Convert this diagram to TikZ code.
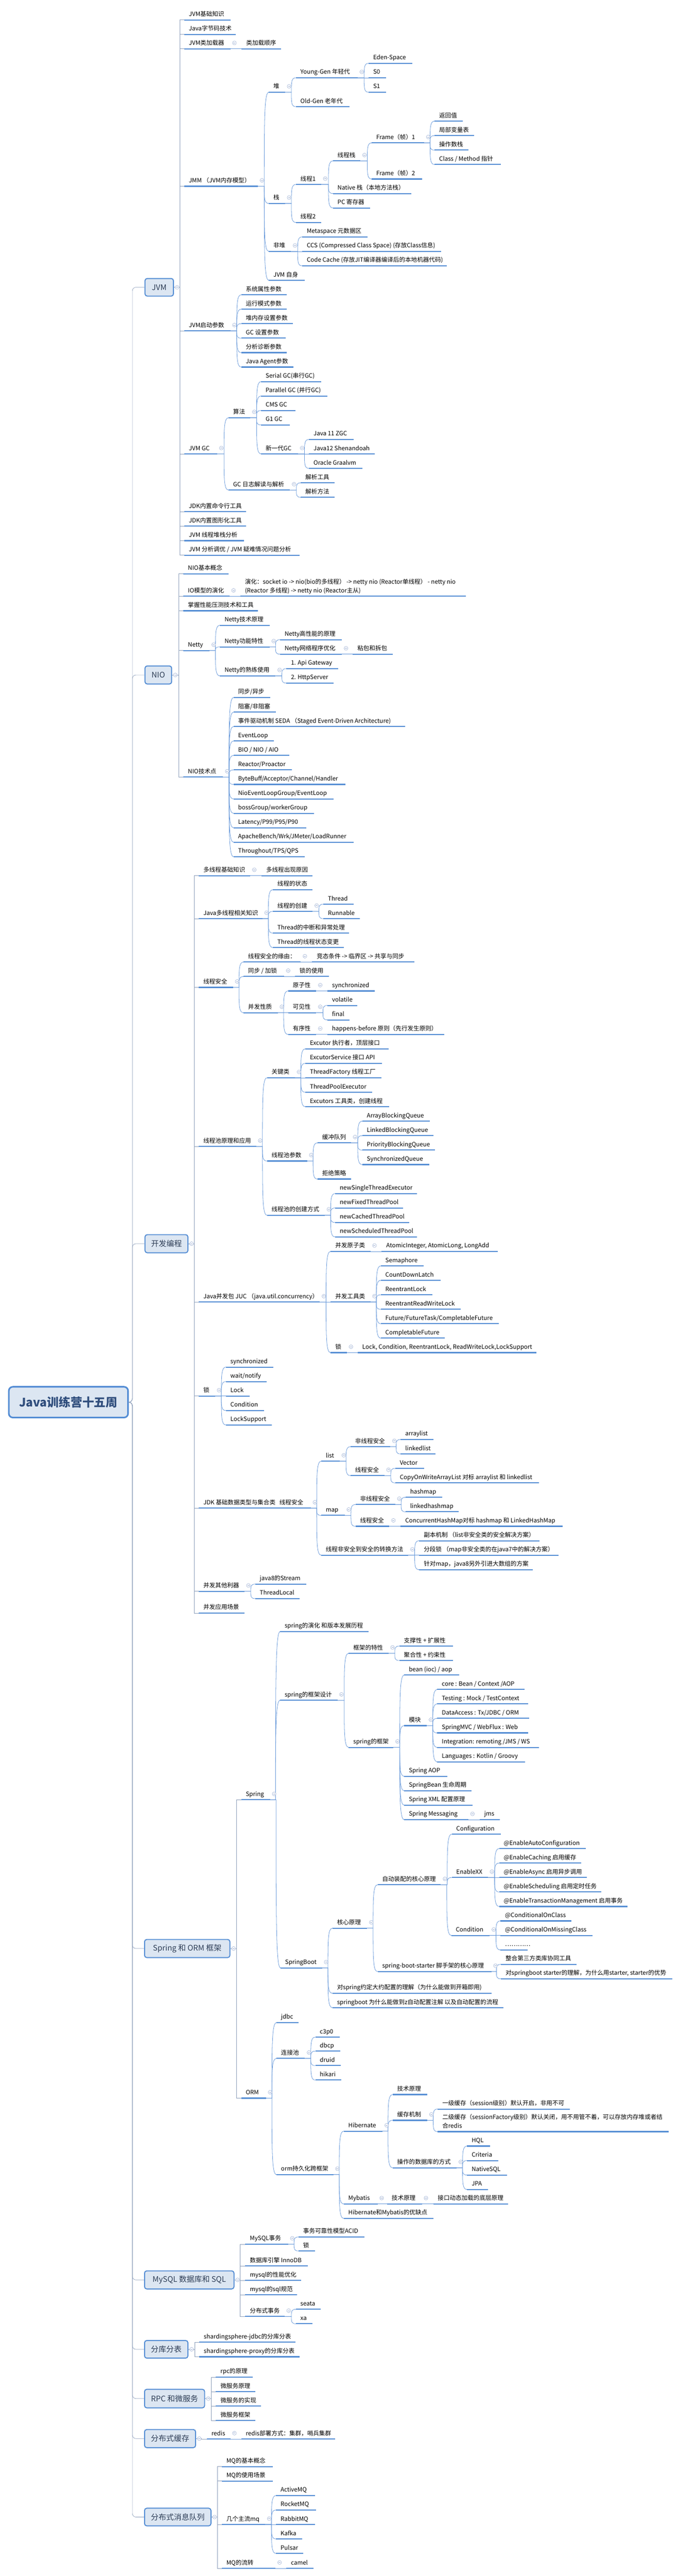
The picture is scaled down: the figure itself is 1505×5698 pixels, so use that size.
\documentclass[tikz,border=0pt]{standalone}
\usepackage{fontspec}
\setmainfont{Noto Sans CJK SC}
\usetikzlibrary{calc}
\definecolor{ul}{RGB}{84,141,212}
\definecolor{cn}{RGB}{104,153,218}
\definecolor{tr}{RGB}{140,158,186}
\definecolor{ic}{RGB}{160,178,212}
\definecolor{bxf}{RGB}{220,230,242}
\definecolor{bxd}{RGB}{84,141,212}
\definecolor{lvltx}{RGB}{45,60,85}
\definecolor{roottx}{RGB}{48,78,125}
\tikzset{
 uline/.style={draw=ul, line width=2.4pt},
 conn/.style={draw=cn, line width=0.9pt},
 elb/.style={draw=tr, line width=0.8pt},
 tx/.style={anchor=base west, inner sep=0pt, font=\fontsize{13.2}{19}\selectfont},
 icon/.style={circle, draw=ic, fill=white, line width=0.7pt, minimum size=8.5pt, inner sep=0pt,
   path picture={\draw[ic, line width=0.8pt] ([xshift=-2.3pt]path picture bounding box.center) -- ([xshift=2.3pt]path picture bounding box.center);}},
 lvl/.style={draw=bxd, fill=bxf, line width=2.2pt, rounded corners=5pt, inner sep=0pt, font=\fontsize{17}{20}\selectfont, text=lvltx},
 rootbox/.style={draw=bxd, fill=bxf, line width=3.5pt, rounded corners=9pt, inner sep=0pt, font=\fontsize{26}{30}\selectfont\bfseries, text=roottx}
}
\newcommand\mmnode[5]{%
 \coordinate (#1-l) at (#2,#4);
 \coordinate (#1-r) at (#3,#4);
 \draw[uline] (#1-l) -- (#1-r);
 \node[tx] (#1) at (#2+10,#4-8) {#5};}
\newcommand\mmnodeml[6]{%
 \coordinate (#1-l) at (#2,#4);
 \coordinate (#1-r) at (#3,#4);
 \draw[uline] (#1-l) -- (#1-r);
 \node[tx] (#1) at (#2+10,#4-8) {\begin{tabular}[b]{@{}l@{}}#5\\#6\end{tabular}};}
\newcommand\mmbranch[2]{%
 \foreach \ch in {#2}{%
  \draw[conn] let \p1=(#1-r), \p2=(\ch-l) in (\p1) -- (\x2-10pt,\y1) .. controls (\x2-10pt,{\y1+0.7*(\y2-\y1)}) and (\x2-10pt,\y2) .. (\p2);}
 \node[icon] (#1-i) at ($(#1-r)+(9,-13)$) {};}
\newcommand\mmelbow[3]{%
 \foreach \ch in {#3}{%
  \draw[elb] let \p1=(#1.east), \p2=(\ch-l) in (\p1) -- (#2pt,\y1) -- (#2pt,\y2) -- (\p2);}
 \node[icon] (#1-i) at ($(#1.east)+(7,0)$) {};}
\begin{document}
\begin{tikzpicture}[x=1pt,y=-1pt]
\fill[white] (0,0) rectangle (1505,5698);
\useasboundingbox (0,0) rectangle (1505,5698);

% ---------- root and main boxes
\node[rootbox, minimum width=264pt, minimum height=68pt] (root) at (151.5,3101.5) {Java训练营十五周};
\node[lvl, minimum width=63pt, minimum height=39pt] (jvm) at (352.5,635.5) {JVM};
\node[lvl, minimum width=59pt, minimum height=40pt] (nio) at (350.5,1493) {NIO};
\node[lvl, minimum width=95pt, minimum height=40pt] (kf) at (368.5,2751) {开发编程};
\node[lvl, minimum width=189pt, minimum height=40pt] (sorm) at (414.5,4310) {Spring 和 ORM 框架};
\node[lvl, minimum width=198pt, minimum height=40pt] (mysql) at (419,5043) {MySQL 数据库和 SQL};
\node[lvl, minimum width=96pt, minimum height=39pt] (fkfb) at (368,5196.5) {分库分表};
\node[lvl, minimum width=133pt, minimum height=41pt] (rpcbox) at (386.5,5305.5) {RPC 和微服务};
\node[lvl, minimum width=113pt, minimum height=40pt] (cache) at (376.5,5394) {分布式缓存};
\node[lvl, minimum width=147pt, minimum height=39pt] (mqbox) at (393.5,5567.5) {分布式消息队列};
\foreach \b in {jvm,nio,kf,sorm,mysql,fkfb,rpcbox,cache,mqbox}{%
 \draw[elb, rounded corners=8pt] let \p1=(root.east), \p2=(\b.west) in (\p1) -- (293pt,\y1) -- (293pt,\y2) -- (\p2);}

% ---------- JVM
\mmnode{jb}{408}{510}{44}{JVM基础知识}
\mmnode{jz}{408}{522}{76}{Java字节码技术}
\mmnode{jl}{408}{510}{108}{JVM类加载器}
\mmnode{jla}{535}{622}{108}{类加载顺序}
\mmnode{jmm}{408}{571}{412}{JMM （JVM内存模型）}
\mmnode{dui}{595}{631}{204}{堆}
\mmnode{yg}{655}{792}{172}{Young-Gen 年轻代}
\mmnode{eden}{816}{913}{140}{Eden-Space}
\mmnode{sz}{816}{855}{172}{S0}
\mmnode{so}{816}{855}{204}{S1}
\mmnode{og}{655}{774}{236}{Old-Gen 老年代}
\mmnode{zhan}{595}{631}{450}{栈}
\mmnode{ta}{655}{711}{408}{线程1}
\mmnode{tst}{737}{798}{356}{线程栈}
\mmnode{fa}{823}{939}{316}{Frame（帧）1}
\mmnode{faa}{962}{1025}{268}{返回值}
\mmnode{fab}{962}{1050}{300}{局部变量表}
\mmnode{fac}{962}{1037}{332}{操作数栈}
\mmnode{fad}{962}{1109}{364}{Class / Method 指针}
\mmnode{fb}{823}{934}{396}{Frame（帧）2}
\mmnode{nst}{737}{911}{428}{Native 栈（本地方法栈）}
\mmnode{pcr}{737}{819}{460}{PC 寄存器}
\mmnode{tb}{655}{711}{492}{线程2}
\mmnode{fd}{595}{644}{556}{非堆}
\mmnode{meta}{669}{814}{524}{Metaspace 元数据区}
\mmnode{ccs}{669}{977}{556}{CCS (Compressed Class Space) (存放Class信息)}
\mmnode{ccache}{669}{989}{588}{Code Cache (存放JIT编译器编译后的本地机器代码)}
\mmnode{jself}{595}{675}{620}{JVM 自身}
\mmnode{jqd}{408}{510}{732}{JVM启动参数}
\mmnode{qa}{534}{635}{652}{系统属性参数}
\mmnode{qb}{534}{635}{684}{运行模式参数}
\mmnode{qc}{534}{648}{716}{堆内存设置参数}
\mmnode{qd}{534}{632}{748}{GC 设置参数}
\mmnode{qe}{534}{635}{780}{分析诊断参数}
\mmnode{qf}{534}{650}{812}{Java Agent参数}
\mmnode{jgc}{408}{481}{1004}{JVM GC}
\mmnode{sf}{506}{554}{924}{算法}
\mmnode{gsr}{578}{711}{844}{Serial GC(串行GC)}
\mmnode{gpa}{578}{725}{876}{Parallel GC (并行GC)}
\mmnode{gcm}{578}{654}{908}{CMS GC}
\mmnode{ggo}{578}{642}{940}{G1 GC}
\mmnode{gnew}{578}{660}{1004}{新一代GC}
\mmnode{gz}{684}{783}{972}{Java 11 ZGC}
\mmnode{gsh}{684}{830}{1004}{Java12 Shenandoah}
\mmnode{ggr}{684}{802}{1036}{Oracle Graalvm}
\mmnode{glog}{506}{642}{1084}{GC 日志解读与解析}
\mmnode{gla}{666}{741}{1068}{解析工具}
\mmnode{glb}{666}{741}{1100}{解析方法}
\mmnode{jdka}{408}{545}{1132}{JDK内置命令行工具}
\mmnode{jdkb}{408}{545}{1164}{JDK内置图形化工具}
\mmnode{jts}{408}{540}{1196}{JVM 线程堆栈分析}
\mmnode{jtu}{408}{663}{1228}{JVM 分析调优 / JVM 疑难情况问题分析}
\mmelbow{jvm}{398}{jb,jz,jl,jmm,jqd,jgc,jdka,jdkb,jts,jtu}
\mmbranch{jl}{jla}
\mmbranch{jmm}{dui,zhan,fd,jself}
\mmbranch{dui}{yg,og}
\mmbranch{yg}{eden,sz,so}
\mmbranch{zhan}{ta,tb}
\mmbranch{ta}{tst,nst,pcr}
\mmbranch{tst}{fa,fb}
\mmbranch{fa}{faa,fab,fac,fad}
\mmbranch{fd}{meta,ccs,ccache}
\mmbranch{jqd}{qa,qb,qc,qd,qe,qf}
\mmbranch{jgc}{sf,glog}
\mmbranch{sf}{gsr,gpa,gcm,ggo,gnew}
\mmbranch{gnew}{gz,gsh,ggr}
\mmbranch{glog}{gla,glb}

% ---------- NIO
\mmnode{nb}{406}{506}{1269}{NIO基本概念}
\mmnode{iom}{406}{508}{1319}{IO模型的演化}
\mmnodeml{iomc}{532}{1031}{1319}{演化：socket io -> nio(bio的多线程） -> netty nio (Reactor单线程） - netty nio}{(Reactor 多线程) -> netty nio (Reactor主从)}
\mmnode{yc}{406}{571}{1351}{掌握性能压测技术和工具}
\mmnode{netty}{406}{464}{1439}{Netty}
\mmnode{nya}{487}{597}{1383}{Netty技术原理}
\mmnode{nyb}{487}{597}{1431}{Netty功能特性}
\mmnode{nyba}{620}{757}{1415}{Netty高性能的原理}
\mmnode{nybb}{620}{757}{1447}{Netty网络程序优化}
\mmnode{nybc}{781}{869}{1447}{粘包和拆包}
\mmnode{nyc}{487}{610}{1495}{Netty的熟练使用}
\mmnode{nyca}{634}{749}{1479}{1. Api Gateway}
\mmnode{nycb}{634}{739}{1511}{2. HttpServer}
\mmnode{niot}{406}{494}{1719}{NIO技术点}
\mmnode{tp1}{517}{598}{1543}{同步/异步}
\mmnode{tp2}{517}{611}{1575}{阻塞/非阻塞}
\mmnode{tp3}{517}{897}{1607}{事件驱动机制 SEDA （Staged Event-Driven Architecture)}
\mmnode{tp4}{517}{606}{1639}{EventLoop}
\mmnode{tp5}{517}{641}{1671}{BIO / NIO / AIO}
\mmnode{tp6}{517}{646}{1703}{Reactor/Proactor}
\mmnode{tp7}{517}{765}{1735}{ByteBuff/Acceptor/Channel/Handler}
\mmnode{tp8}{517}{738}{1767}{NioEventLoopGroup/EventLoop}
\mmnode{tp9}{517}{695}{1799}{bossGroup/workerGroup}
\mmnode{tp10}{517}{678}{1831}{Latency/P99/P95/P90}
\mmnode{tp11}{517}{783}{1863}{ApacheBench/Wrk/JMeter/LoadRunner}
\mmnode{tp12}{517}{675}{1895}{Throughout/TPS/QPS}
\mmelbow{nio}{396}{nb,iom,yc,netty,niot}
\mmbranch{iom}{iomc}
\mmbranch{netty}{nya,nyb,nyc}
\mmbranch{nyb}{nyba,nybb}
\mmbranch{nybb}{nybc}
\mmbranch{nyc}{nyca,nycb}
\mmbranch{niot}{tp1,tp2,tp3,tp4,tp5,tp6,tp7,tp8,tp9,tp10,tp11,tp12}

% ---------- 开发编程
\mmnode{dxa}{440}{554}{1937}{多线程基础知识}
\mmnode{dxaa}{579}{692}{1937}{多线程出现原因}
\mmnode{dxb}{440}{581}{2032}{Java多线程相关知识}
\mmnode{dxba}{604}{692}{1968}{线程的状态}
\mmnode{dxbb}{604}{692}{2016}{线程的创建}
\mmnode{dxbba}{716}{783}{2000}{Thread}
\mmnode{dxbbb}{716}{797}{2032}{Runnable}
\mmnode{dxbc}{604}{773}{2064}{Thread的中断和异常处理}
\mmnode{dxbd}{604}{761}{2096}{Thread的线程状态变更}
\mmnode{dxc}{440}{516}{2184}{线程安全}
\mmnode{dxca}{539}{666}{2128}{线程安全的缘由：}
\mmnode{dxcaa}{691}{917}{2128}{竞态条件 -> 临界区 -> 共享与同步}
\mmnode{dxcb}{539}{629}{2160}{同步 / 加锁}
\mmnode{dxcba}{653}{728}{2160}{锁的使用}
\mmnode{dxcc}{539}{615}{2240}{并发性质}
\mmnode{dxcca}{638}{700}{2192}{原子性}
\mmnode{dxccaa}{725}{830}{2192}{synchronized}
\mmnode{dxccb}{638}{700}{2240}{可见性}
\mmnode{dxccba}{725}{791}{2224}{volatile}
\mmnode{dxccbb}{725}{774}{2256}{final}
\mmnode{dxccc}{638}{700}{2288}{有序性}
\mmnode{dxccca}{725}{984}{2288}{happens-before 原则（先行发生原则）}
\mmnode{dxd}{440}{567}{2536}{线程池原理和应用}
\mmnode{dxda}{591}{653}{2384}{关键类}
\mmnode{dxdaa}{676}{860}{2320}{Excutor 执行者，顶层接口}
\mmnode{dxdab}{676}{846}{2352}{ExcutorService 接口 API}
\mmnode{dxdac}{676}{844}{2384}{ThreadFactory 线程工厂}
\mmnode{dxdad}{676}{824}{2416}{ThreadPoolExecutor}
\mmnode{dxdae}{676}{861}{2448}{Excutors 工具类，创建线程}
\mmnode{dxdb}{591}{680}{2568}{线程池参数}
\mmnode{dxdba}{703}{777}{2528}{缓冲队列}
\mmnode{dxdbaa}{802}{952}{2480}{ArrayBlockingQueue}
\mmnode{dxdbab}{802}{959}{2512}{LinkedBlockingQueue}
\mmnode{dxdbac}{802}{963}{2544}{PriorityBlockingQueue}
\mmnode{dxdbad}{802}{950}{2576}{SynchronizedQueue}
\mmnode{dxdbb}{703}{777}{2608}{拒绝策略}
\mmnode{dxdc}{591}{719}{2688}{线程池的创建方式}
\mmnode{dxdca}{742}{923}{2640}{newSingleThreadExecutor}
\mmnode{dxdcb}{742}{892}{2672}{newFixedThreadPool}
\mmnode{dxdcc}{742}{906}{2704}{newCachedThreadPool}
\mmnode{dxdcd}{742}{923}{2736}{newScheduledThreadPool}
\mmnode{dxe}{440}{708}{2880}{Java并发包 JUC （java.util.concurrency）}
\mmnode{dxea}{732}{820}{2768}{并发原子类}
\mmnode{dxeaa}{845}{1102}{2768}{AtomicInteger, AtomicLong, LongAdd}
\mmnode{dxeb}{732}{820}{2880}{并发工具类}
\mmnode{dxeba}{843}{938}{2800}{Semaphore}
\mmnode{dxebb}{843}{975}{2832}{CountDownLatch}
\mmnode{dxebc}{843}{957}{2864}{ReentrantLock}
\mmnode{dxebd}{843}{1020}{2896}{ReentrantReadWriteLock}
\mmnode{dxebe}{843}{1104}{2928}{Future/FutureTask/CompletableFuture}
\mmnode{dxebf}{843}{985}{2960}{CompletableFuture}
\mmnode{dxec}{732}{768}{2992}{锁}
\mmnode{dxeca}{792}{1188}{2992}{Lock, Condition, ReentrantLock, ReadWriteLock,LockSupport}
\mmnode{dxf}{440}{476}{3088}{锁}
\mmnode{dxfa}{500}{605}{3024}{synchronized}
\mmnode{dxfb}{500}{590}{3056}{wait/notify}
\mmnode{dxfc}{500}{553}{3088}{Lock}
\mmnode{dxfd}{500}{585}{3120}{Condition}
\mmnode{dxfe}{500}{602}{3152}{LockSupport}
\mmnode{dxg}{440}{688}{3336}{JDK 基础数据类型与集合类~~~线程安全}
\mmnode{dxga}{711}{752}{3232}{list}
\mmnode{dxgaa}{776}{864}{3200}{非线程安全}
\mmnode{dxgaaa}{887}{959}{3184}{arraylist}
\mmnode{dxgaab}{887}{964}{3216}{linkedlist}
\mmnode{dxgab}{776}{851}{3264}{线程安全}
\mmnode{dxgaba}{875}{939}{3248}{Vector}
\mmnode{dxgabb}{875}{1193}{3280}{CopyOnWriteArrayList 对标 arraylist 和 linkedlist}
\mmnode{dxgb}{711}{763}{3352}{map}
\mmnode{dxgba}{787}{875}{3328}{非线程安全}
\mmnode{dxgbaa}{898}{979}{3312}{hashmap}
\mmnode{dxgbab}{898}{1015}{3344}{linkedhashmap}
\mmnode{dxgbb}{787}{862}{3376}{线程安全}
\mmnode{dxgbba}{887}{1246}{3376}{ConcurrentHashMap对标 hashmap 和 LinkedHashMap}
\mmnode{dxgc}{711}{904}{3440}{线程非安全到安全的转换方法}
\mmnode{dxgca}{928}{1194}{3408}{副本机制 （list非安全类的安全解决方案）}
\mmnode{dxgcb}{928}{1236}{3440}{分段锁 （map非安全类的在java7中的解决方案）}
\mmnode{dxgcc}{928}{1180}{3472}{针对map，java8另外引进大数组的方案}
\mmnode{dxh}{440}{541}{3520}{并发其他利器}
\mmnode{dxha}{565}{678}{3504}{java8的Stream}
\mmnode{dxhb}{565}{663}{3536}{ThreadLocal}
\mmnode{dxi}{440}{541}{3568}{并发应用场景}
\mmelbow{kf}{430}{dxa,dxb,dxc,dxd,dxe,dxf,dxg,dxh,dxi}
\mmbranch{dxa}{dxaa}
\mmbranch{dxb}{dxba,dxbb,dxbc,dxbd}
\mmbranch{dxbb}{dxbba,dxbbb}
\mmbranch{dxc}{dxca,dxcb,dxcc}
\mmbranch{dxca}{dxcaa}
\mmbranch{dxcb}{dxcba}
\mmbranch{dxcc}{dxcca,dxccb,dxccc}
\mmbranch{dxcca}{dxccaa}
\mmbranch{dxccb}{dxccba,dxccbb}
\mmbranch{dxccc}{dxccca}
\mmbranch{dxd}{dxda,dxdb,dxdc}
\mmbranch{dxda}{dxdaa,dxdab,dxdac,dxdad,dxdae}
\mmbranch{dxdb}{dxdba,dxdbb}
\mmbranch{dxdba}{dxdbaa,dxdbab,dxdbac,dxdbad}
\mmbranch{dxdc}{dxdca,dxdcb,dxdcc,dxdcd}
\mmbranch{dxe}{dxea,dxeb,dxec}
\mmbranch{dxea}{dxeaa}
\mmbranch{dxeb}{dxeba,dxebb,dxebc,dxebd,dxebe,dxebf}
\mmbranch{dxec}{dxeca}
\mmbranch{dxf}{dxfa,dxfb,dxfc,dxfd,dxfe}
\mmbranch{dxg}{dxga,dxgb,dxgc}
\mmbranch{dxga}{dxgaa,dxgab}
\mmbranch{dxgaa}{dxgaaa,dxgaab}
\mmbranch{dxgab}{dxgaba,dxgabb}
\mmbranch{dxgb}{dxgba,dxgbb}
\mmbranch{dxgba}{dxgbaa,dxgbab}
\mmbranch{dxgbb}{dxgbba}
\mmbranch{dxgc}{dxgca,dxgcb,dxgcc}
\mmbranch{dxh}{dxha,dxhb}

% ---------- Spring 和 ORM
\mmnode{sp}{534}{598}{3981}{Spring}
\mmnode{spa}{620}{816}{3609}{spring的演化 和版本发展历程}
\mmnode{spb}{620}{747}{3761}{spring的框架设计}
\mmnode{spba}{772}{860}{3657}{框架的特性}
\mmnode{spbaa}{884}{1003}{3641}{支撑性 + 扩展性}
\mmnode{spbab}{884}{1003}{3673}{聚合性 + 约束性}
\mmnode{spbb}{772}{871}{3865}{spring的框架}
\mmnode{spbba}{895}{1016}{3705}{bean (ioc) / aop}
\mmnode{spbbb}{895}{945}{3817}{模块}
\mmnode{mka}{968}{1161}{3737}{core : Bean / Context /AOP}
\mmnode{mkb}{968}{1169}{3769}{Testing : Mock / TestContext}
\mmnode{mkc}{968}{1172}{3801}{DataAccess : Tx/JDBC / ORM}
\mmnode{mkd}{968}{1169}{3833}{SpringMVC / WebFlux : Web}
\mmnode{mke}{968}{1193}{3865}{Integration: remoting /JMS / WS}
\mmnode{mkf}{968}{1162}{3897}{Languages : Kotlin / Groovy}
\mmnode{spbbc}{895}{990}{3929}{Spring AOP}
\mmnode{spbbd}{895}{1044}{3961}{SpringBean 生命周期}
\mmnode{spbbe}{895}{1046}{3993}{Spring XML 配置原理}
\mmnode{spbbf}{895}{1037}{4025}{Spring Messaging}
\mmnode{spbbfa}{1062}{1106}{4025}{jms}
\mmnode{spc}{621}{713}{4353}{SpringBoot}
\mmnode{spca}{736}{813}{4265}{核心原理}
\mmnode{spcaa}{836}{976}{4169}{自动装配的核心原理}
\mmnode{cfg}{1000}{1109}{4057}{Configuration}
\mmnode{enx}{1000}{1080}{4153}{EnableXX}
\mmnode{en1}{1105}{1297}{4089}{@EnableAutoConfiguration}
\mmnode{en2}{1105}{1287}{4121}{@EnableCaching 启用缓存}
\mmnode{en3}{1105}{1299}{4153}{@EnableAsync 启用异步调用}
\mmnode{en4}{1105}{1331}{4185}{@EnableScheduling 启用定时任务}
\mmnode{en5}{1105}{1389}{4217}{@EnableTransactionManagement 启用事务}
\mmnode{cond}{999}{1084}{4281}{Condition}
\mmnode{coa}{1108}{1265}{4249}{@ConditionalOnClass}
\mmnode{cob}{1108}{1312}{4281}{@ConditionalOnMissingClass}
\mmnode{coc}{1108}{1168}{4313}{…………}
\mmnode{spcab}{836}{1088}{4361}{spring-boot-starter 脚手架的核心原理}
\mmnode{spcaba}{1109}{1276}{4345}{整合第三方类库协同工具}
\mmnode{spcabb}{1109}{1488}{4377}{对springboot starter的理解，为什么用starter, starter的优势}
\mmnode{spcb}{736}{1088}{4409}{对spring约定大约配置的理解（为什么能做到开箱即用)}
\mmnode{spcc}{736}{1115}{4441}{springboot 为什么能做到z自动配置注解 以及自动配置的流程}
\mmnode{orm}{534}{589}{4641}{ORM}
\mmnode{ora}{612}{661}{4474}{jdbc}
\mmnode{orb}{612}{675}{4553}{连接池}
\mmnode{orba}{698}{752}{4506}{c3p0}
\mmnode{orbb}{698}{753}{4537}{dbcp}
\mmnode{orbc}{698}{754}{4569}{druid}
\mmnode{orbd}{698}{755}{4601}{hikari}
\mmnode{orc}{612}{738}{4810}{orm持久化跨框架}
\mmnode{hb}{761}{847}{4714}{Hibernate}
\mmnode{hba}{869}{946}{4633}{技术原理}
\mmnode{hbb}{869}{946}{4690}{缓存机制}
\mmnode{hbba}{969}{1261}{4665}{一级缓存（session级别）默认开启，非用不可}
\mmnodeml{hbbb}{969}{1480}{4715}{二级缓存（sessionFactory级别）默认关闭，用不用管不着，可以存放内存堆或者结}{合redis}
\mmnode{hbc}{869}{1011}{4795}{操作的数据库的方式}
\mmnode{hbca}{1034}{1085}{4747}{HQL}
\mmnode{hbcb}{1034}{1103}{4779}{Criteria}
\mmnode{hbcc}{1034}{1123}{4811}{NativeSQL}
\mmnode{hbcd}{1034}{1080}{4843}{JPA}
\mmnode{mb}{761}{836}{4875}{Mybatis}
\mmnode{mba}{857}{934}{4875}{技术原理}
\mmnode{mbaa}{959}{1125}{4875}{接口动态加载的底层原理}
\mmnode{hm}{761}{959}{4907}{Hibernate和Mybatis的优缺点}
\mmelbow{sorm}{523}{sp,orm}
\mmbranch{sp}{spa,spb,spc}
\mmbranch{spb}{spba,spbb}
\mmbranch{spba}{spbaa,spbab}
\mmbranch{spbb}{spbba,spbbb,spbbc,spbbd,spbbe,spbbf}
\mmbranch{spbbb}{mka,mkb,mkc,mkd,mke,mkf}
\mmbranch{spbbf}{spbbfa}
\mmbranch{spc}{spca,spcb,spcc}
\mmbranch{spca}{spcaa,spcab}
\mmbranch{spcaa}{cfg,enx,cond}
\mmbranch{enx}{en1,en2,en3,en4,en5}
\mmbranch{cond}{coa,cob,coc}
\mmbranch{spcab}{spcaba,spcabb}
\mmbranch{orm}{ora,orb,orc}
\mmbranch{orb}{orba,orbb,orbc,orbd}
\mmbranch{orc}{hb,mb,hm}
\mmbranch{hb}{hba,hbb,hbc}
\mmbranch{hbb}{hbba,hbbb}
\mmbranch{hbc}{hbca,hbcb,hbcc,hbcd}
\mmbranch{mb}{mba}
\mmbranch{mba}{mbaa}

% ---------- MySQL
\mmnode{mya}{543}{638}{4964}{MySQL事务}
\mmnode{myaa}{661}{807}{4948}{事务可靠性模型ACID}
\mmnode{myab}{661}{697}{4979}{锁}
\mmnode{myb}{543}{681}{5012}{数据库引擎 InnoDB}
\mmnode{myc}{543}{667}{5044}{mysql的性能优化}
\mmnode{myd}{543}{657}{5076}{mysql的sql规范}
\mmnode{mye}{543}{630}{5124}{分布式事务}
\mmnode{myea}{655}{710}{5108}{seata}
\mmnode{myeb}{655}{692}{5140}{xa}
\mmelbow{mysql}{532}{mya,myb,myc,myd,mye}
\mmbranch{mya}{myaa,myab}
\mmbranch{mye}{myea,myeb}

% ---------- 分库分表
\mmnode{fka}{441}{654}{5181}{shardingsphere-jdbc的分库分表}
\mmnode{fkb}{441}{663}{5213}{shardingsphere-proxy的分库分表}
\mmelbow{fkfb}{431}{fka,fkb}

% ---------- RPC
\mmnode{rp1}{478}{559}{5258}{rpc的原理}
\mmnode{rp2}{478}{565}{5290}{微服务原理}
\mmnode{rp3}{478}{578}{5322}{微服务的实现}
\mmnode{rp4}{478}{565}{5354}{微服务框架}
\mmelbow{rpcbox}{468}{rp1,rp2,rp3,rp4}

% ---------- 分布式缓存
\mmnode{rd}{458}{510}{5395}{redis}
\mmnode{rda}{534}{742}{5395}{redis部署方式：集群，哨兵集群}
\mmelbow{cache}{446}{rd}
\mmbranch{rd}{rda}

% ---------- 分布式消息队列
\mmnode{mq1}{491}{604}{5456}{MQ的基本概念}
\mmnode{mq2}{491}{604}{5488}{MQ的使用场景}
\mmnode{mq3}{491}{587}{5584}{几个主流mq}
\mmnode{mqa}{611}{697}{5520}{ActiveMQ}
\mmnode{mqb}{611}{700}{5552}{RocketMQ}
\mmnode{mqc}{611}{697}{5584}{RabbitMQ}
\mmnode{mqd}{611}{669}{5616}{Kafka}
\mmnode{mqe}{611}{671}{5648}{Pulsar}
\mmnode{mq4}{491}{610}{5681}{MQ的流转}
\mmnode{mq4a}{634}{694}{5681}{camel}
\mmelbow{mqbox}{481}{mq1,mq2,mq3,mq4}
\mmbranch{mq3}{mqa,mqb,mqc,mqd,mqe}
\mmbranch{mq4}{mq4a}
\end{tikzpicture}
\end{document}
